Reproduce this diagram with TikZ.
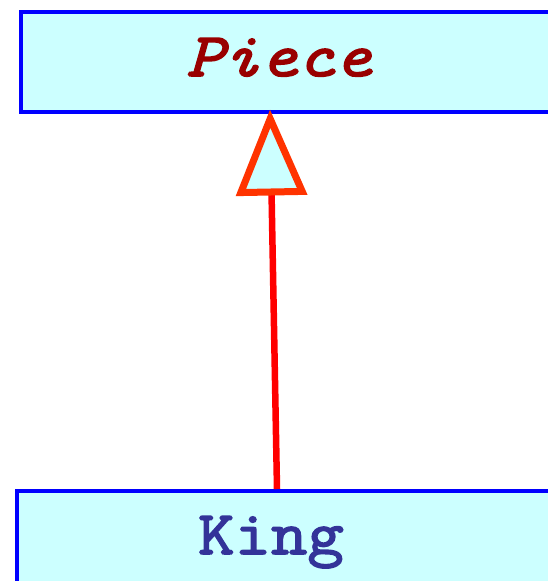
\documentclass[tikz,border=0pt]{standalone}
\usepackage{xcolor}
\usepackage{fontspec}
\usetikzlibrary{arrows.meta}

\newfontfamily\clsfont[FakeBold=2.5, FakeStretch=1.14]{Latin Modern Mono}

\definecolor{boxfill}{HTML}{CCFFFF}
\definecolor{boxline}{HTML}{0000FF}
\definecolor{piecered}{HTML}{990000}
\definecolor{kingblue}{HTML}{333399}
\definecolor{genline}{HTML}{FF0000}
\definecolor{gentip}{HTML}{FF3300}

\tikzset{
  classbox/.style={draw=boxline, fill=boxfill, line width=4pt, anchor=north west,
    inner sep=0pt, minimum width=600pt},
  clsname/.style={font=\clsfont\fontsize{62}{62}\selectfont, inner sep=0pt, anchor=base},
  inherits/.style={draw=genline, line width=6.5pt,
    -{Triangle[open, fill=boxfill, color=gentip, line width=7pt, length=86pt, width=70pt]}}
}

\begin{document}
\begin{tikzpicture}[x=1pt, y=-1pt]
    \useasboundingbox (0, 0) rectangle (548, 581);
    \clip (0, 0) rectangle (548, 581);
    % Class boxes and names:
    \node[classbox, minimum height=100pt] (piecebox) at (19, 9.5) {};
    \node[clsname, text=piecered] (piece) at (279, 76) {\itshape Piece};
    \node[classbox, minimum height=120pt] (kingbox) at (15, 489) {};
    \node[clsname, text=kingblue] (king) at (271, 554) {King};
    % Generalization arrow:
    \draw[inherits] ([xshift=262pt]kingbox.north west) -- ([xshift=251pt, yshift=4pt]piecebox.south west);
\end{tikzpicture}
\end{document}
